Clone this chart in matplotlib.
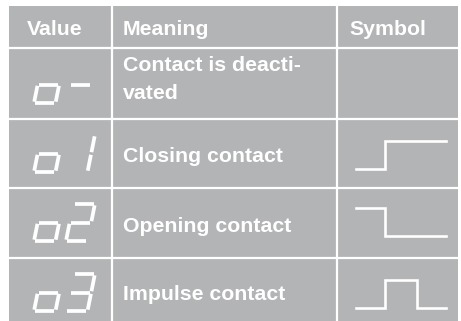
import matplotlib.pyplot as plt

# table content
headers = ['Value', 'Meaning', 'Symbol']
value_codes = ['o-', 'o1', 'o2', 'o3']
meanings = ['Contact is deacti-\nvated', 'Closing contact', 'Opening contact', 'Impulse contact']
# switching symbols: normalized time / level, None = no symbol
symbol_x = [None, [0, 0.32, 0.32, 1], [0, 0.32, 0.32, 1], [0, 0.32, 0.32, 0.68, 0.68, 1]]
symbol_y = [None, [0, 0, 1, 1], [1, 1, 0, 0], [0, 0, 1, 1, 0, 0]]

# seven segment patterns
segments = {'o': 'cdeg', '-': 'g', '1': 'bc', '2': 'abged', '3': 'abgcd'}
seg_coords = {
    'a': ((0, 2), (1, 2)), 'b': ((1, 2), (1, 1)), 'c': ((1, 1), (1, 0)),
    'd': ((0, 0), (1, 0)), 'e': ((0, 0), (0, 1)), 'f': ((0, 1), (0, 2)),
    'g': ((0, 1), (1, 1)),
}

GRAY = '#b3b4b6'
W, H = 461, 321
col_edges = [9, 112, 337, 458]
row_edges = [6, 47.5, 118.5, 187.5, 257.5, 321]
text_base = [[71, 99], [162], [232], [300]]
digit_bottom = [103, 172, 241, 311]
wave_top = [None, 141, 208, 280]

fig = plt.figure(figsize=(W / 100, H / 100), dpi=100)
ax = fig.add_axes([0, 0, 1, 1])
ax.set_xlim(0, W)
ax.set_ylim(H, 0)
ax.axis('off')

ax.add_patch(plt.Rectangle((col_edges[0], row_edges[0]), col_edges[-1] - col_edges[0],
                           row_edges[-1] - row_edges[0], color=GRAY, lw=0))
for x in col_edges[1:-1]:
    ax.plot([x, x], [row_edges[0], row_edges[-1]], color='white', lw=1.6)
for y in row_edges[1:-1]:
    ax.plot([col_edges[0], col_edges[-1]], [y, y], color='white', lw=1.6)

font = dict(family='Liberation Sans', weight='bold', size=15.3, color='white')
header_x = [27, 123, 349]
for hx, h in zip(header_x, headers):
    ax.text(hx, 35, h, va='baseline', ha='left', **font)

for i, m in enumerate(meanings):
    for line, base in zip(m.split('\n'), text_base[i]):
        ax.text(123, base, line, va='baseline', ha='left', **font)


def draw_digit(ch, x0, yb, wd=21.5, hd=18.5, slant=0.2, gap=1.3):
    for s in segments.get(ch, ''):
        (ux0, uy0), (ux1, uy1) = seg_coords[s]
        px0, py0 = ux0 * wd, uy0 * hd
        px1, py1 = ux1 * wd, uy1 * hd
        dx, dy = px1 - px0, py1 - py0
        ln = (dx ** 2 + dy ** 2) ** 0.5
        px0, py0 = px0 + dx / ln * gap, py0 + dy / ln * gap
        px1, py1 = px1 - dx / ln * gap, py1 - dy / ln * gap
        xs = [x0 + px0 + slant * py0, x0 + px1 + slant * py1]
        ys = [yb - py0, yb - py1]
        ax.plot(xs, ys, color='white', lw=2.7, solid_capstyle='butt')


for i, code in enumerate(value_codes):
    draw_digit(code[0], 34, digit_bottom[i])
    draw_digit(code[1], 66, digit_bottom[i])

for i in range(len(symbol_x)):
    if symbol_x[i] is None:
        continue
    xs = [356 + v * 90 for v in symbol_x[i]]
    ys = [wave_top[i] + (1 - v) * 28 for v in symbol_y[i]]
    ax.plot(xs, ys, color='white', lw=1.9, solid_joinstyle='miter')

fig.savefig('out.png', dpi=100, facecolor='white')
